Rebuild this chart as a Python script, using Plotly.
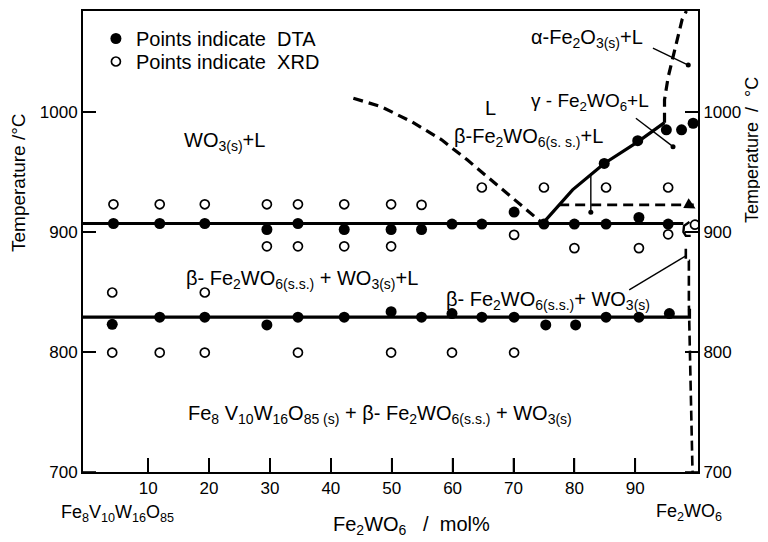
import plotly.graph_objects as go

# ---------------- data ----------------
# DTA points (filled)
dta_x = [4.3, 11.9, 19.3, 29.5, 34.6, 42.2, 49.9, 54.9, 59.9, 64.8, 70.1, 75.0, 80.0, 85.2, 90.6, 95.4,
         84.9, 90.4, 95.1, 97.6, 99.5,
         4.1, 11.9, 19.3, 29.5, 34.6, 42.2, 49.9, 54.9, 59.9, 64.8, 70.1, 75.3, 80.2, 85.2, 90.6, 95.6]
dta_T = [907, 907, 907, 902, 907, 902, 902, 902, 906.5, 906.5, 916.5, 906.5, 906.5, 906.5, 912, 906.5,
         957, 976, 985, 985, 990.5,
         823, 829, 829, 822.5, 829, 829, 833.5, 829, 832, 829, 829, 822.5, 822.5, 829, 829, 832]

# XRD points (open)
xrd_x = [4.3, 11.9, 19.3, 29.5, 34.6, 42.2, 49.9, 54.9,
         64.8, 75.0, 85.2, 95.4,
         29.5, 34.6, 42.2, 49.9, 70.1, 80.0, 90.6, 95.4, 99.8,
         4.1, 19.3,
         4.1, 11.9, 19.3, 34.6, 49.9, 59.9, 70.1]
xrd_T = [923, 923, 923, 923, 923, 923, 923, 922.5,
         937, 937, 937, 937,
         888, 888, 888, 888, 897.5, 886.5, 886.5, 898, 906,
         849.5, 849.5,
         799.5, 799.5, 799.5, 799.5, 799.5, 799.5, 799.5]

# phase boundaries
upper_eut_x = [-0.7, 97.9]
upper_eut_T = [907, 907]
lower_eut_x = [-0.7, 98.9, 98.9]
lower_eut_T = [829, 829, 836]

liq_fw_x = [74.7, 79.7, 84.9, 90.4, 94.8]          # beta-Fe2WO6 liquidus (solid)
liq_fw_T = [906.5, 935, 957, 975, 991]

liq_fe2o3_x = [94.8, 94.8, 95.4, 96.2, 97.0, 97.7, 98.4]   # alpha-Fe2O3 liquidus (dashed)
liq_fe2o3_T = [991, 1010, 1029, 1046, 1063, 1077, 1084]

liq_wo3_x = [43.7, 48.3, 53.3, 58.2, 62.4, 66.5, 70.6, 74.7]  # WO3 liquidus (dashed)
liq_wo3_T = [1011.4, 1004.2, 991.7, 976.7, 960, 942.5, 925.8, 907.5]

gamma_x = [77.5, 99.6]                                 # dashed horizontal
gamma_T = [922.5, 922.5]

bracket_x = [98.9, 98.0, 97.9, 98.3, 99.1]
bracket_T = [908.3, 905, 900, 896.7, 896.7]

ss_x = [98.3, 98.3, 98.8, 98.8, 99.1, 99.4]            # Fe2WO6 s.s. boundary
ss_T = [886, 876, 876, 840, 770, 700]

# leader lines
lead_a_x = [92.9, 98.7]; lead_a_T = [1053, 1039]
lead_g_x = [90.1, 96.2]; lead_g_T = [994.7, 971]
lead_b_x = [82.7, 82.7]; lead_b_T = [949, 916.4]
lead_s_x = [89.0, 98.3]; lead_s_T = [851.7, 880.0]

x_ticks = [10, 20, 30, 40, 50, 60, 70, 80, 90]
y_ticks = [700, 800, 900, 1000]

FONT = "Liberation Sans"
BLACK = "black"

# page has an 8px body margin; plot area target (screen px): x 83..698, y 11..472
PX0, PX1, PY0, PY1 = 83, 698, 11, 472
PW, PH = PX1 - PX0, PY1 - PY0

fig = go.Figure()

def line(x, y, dash="solid", width=3.2):
    fig.add_trace(go.Scatter(x=x, y=y, mode="lines", showlegend=False, hoverinfo="skip",
                             line=dict(color=BLACK, width=width, dash=dash)))

line(upper_eut_x, upper_eut_T)
line(lower_eut_x, lower_eut_T)
line(liq_fw_x, liq_fw_T)
line(liq_fe2o3_x, liq_fe2o3_T, dash="10px,6px")
line(liq_wo3_x, liq_wo3_T, dash="10px,6px")
line(gamma_x, gamma_T, dash="10px,6px", width=2.6)
line(bracket_x, bracket_T, width=2.4)
line(ss_x, ss_T, dash="10px,5px", width=2.6)

def leader(x, y, dot=True):
    fig.add_trace(go.Scatter(x=x, y=y, mode="lines", showlegend=False, hoverinfo="skip",
                             line=dict(color=BLACK, width=1.4)))
    if dot:
        fig.add_trace(go.Scatter(x=[x[-1]], y=[y[-1]], mode="markers", showlegend=False,
                                 hoverinfo="skip", marker=dict(color=BLACK, size=5)))

leader(lead_a_x, lead_a_T)
leader(lead_g_x, lead_g_T)
leader(lead_b_x, lead_b_T)
leader(lead_s_x, lead_s_T, dot=False)

fig.add_trace(go.Scatter(x=dta_x, y=dta_T, mode="markers", name="Points indicate  DTA",
                         legend="legend",
                         marker=dict(color=BLACK, size=11, symbol="circle")))
fig.add_trace(go.Scatter(x=xrd_x, y=xrd_T, mode="markers", name="Points indicate  XRD",
                         legend="legend2",
                         marker=dict(color="white", size=9, symbol="circle",
                                     line=dict(color=BLACK, width=1.7))))

# y2 dummy for right axis
fig.add_trace(go.Scatter(x=[None], y=[None], yaxis="y2", showlegend=False, hoverinfo="skip"))

# inside tick marks, placed at the tick values through the axes
for v in x_ticks:
    fig.add_shape(type="line", xref="x", yref="paper", x0=v, x1=v, y0=0, y1=14 / PH,
                  line=dict(color=BLACK, width=1.6))
for v in y_ticks:
    fig.add_shape(type="line", xref="paper", yref="y", x0=0, x1=13 / PW, y0=v, y1=v,
                  line=dict(color=BLACK, width=1.6))
    fig.add_shape(type="line", xref="paper", yref="y", x0=1 - 13 / PW, x1=1, y0=v, y1=v,
                  line=dict(color=BLACK, width=1.6))

# arrow at end of dashed horizontal line
fig.add_annotation(x=99.9, y=919.5, ax=-9, ay=-5, showarrow=True, arrowhead=2,
                   arrowsize=1, arrowwidth=2.2, arrowcolor=BLACK, text="")

def label(x, y, text, size=20, xanchor="center"):
    fig.add_annotation(x=x, y=y, text=text, showarrow=False, xanchor=xanchor,
                       font=dict(family=FONT, size=size, color=BLACK))

label(22.5, 975, "WO<sub>3(s)</sub>+L")
label(66.2, 1003, "L")
label(82.5, 1008, "γ - Fe<sub>2</sub>WO<sub>6</sub>+L", size=19)
label(72.4, 979, "β-Fe<sub>2</sub>WO<sub>6(s. s.)</sub>+L")
label(82.0, 1061, "α-Fe<sub>2</sub>O<sub>3(s)</sub>+L")
label(35.2, 860, "β- Fe<sub>2</sub>WO<sub>6(s.s.)</sub> + WO<sub>3(s)</sub>+L")
label(75.6, 843, "β- Fe<sub>2</sub>WO<sub>6(s.s.)</sub>+ WO<sub>3(s)</sub>")
label(48.0, 748, "Fe<sub>8</sub> V<sub>10</sub>W<sub>16</sub>O<sub>85 (s)</sub> + β- Fe<sub>2</sub>WO<sub>6(s.s.)</sub> + WO<sub>3(s)</sub>")

# labels placed in screen pixels (converted to plot-area paper coordinates)
def plabel(px, py, text, size=18, angle=0):
    fig.add_annotation(x=(px - PX0) / PW, y=(PY1 - py) / PH,
                       xref="paper", yref="paper", text=text,
                       showarrow=False, textangle=angle, xanchor="center", yanchor="middle",
                       font=dict(family=FONT, size=size, color=BLACK))

leg_common = dict(x=0.021, xanchor="left", yanchor="top", bgcolor="rgba(0,0,0,0)",
                  font=dict(family=FONT, size=20, color=BLACK), itemwidth=30)

axis_common = dict(tickmode="array", ticks="inside", tickwidth=2, tickcolor=BLACK, showline=True,
                   linecolor=BLACK, linewidth=2, showgrid=False, zeroline=False,
                   tickfont=dict(family=FONT, size=17, color=BLACK))

fig.update_layout(
    width=760, height=534,
    margin=dict(l=PX0 - 8, r=768 - PX1, t=PY0 - 8, b=542 - PY1, autoexpand=False),
    paper_bgcolor="white", plot_bgcolor="rgba(0,0,0,0)",
    showlegend=True,
    legend=dict(y=1 - (19 - PY0) / PH, **leg_common),
    legend2=dict(y=1 - (42 - PY0) / PH, **leg_common),
    xaxis=dict(range=[-0.7, 100.3], tickvals=x_ticks, ticktext=[str(v) for v in x_ticks],
               ticklen=14, mirror=True, **axis_common),
    yaxis=dict(range=[700, 1084], tickvals=y_ticks, ticktext=[str(v) for v in y_ticks],
               ticklen=13, **axis_common),
    yaxis2=dict(range=[700, 1084], tickvals=y_ticks, ticktext=[str(v) for v in y_ticks],
                ticklen=13, overlaying="y", side="right", **axis_common),
)

plabel(117, 513, "Fe<sub>8</sub>V<sub>10</sub>W<sub>16</sub>O<sub>85</sub>")
plabel(689, 512, "Fe<sub>2</sub>WO<sub>6</sub>")
plabel(411, 525, "Fe<sub>2</sub>WO<sub>6</sub>   /  mol%", size=20)
plabel(18, 183, "Temperature /°C", size=19, angle=-90)
plabel(752, 150, "Temperature  /  °C", size=18, angle=-90)

fig.write_html("out.html")
